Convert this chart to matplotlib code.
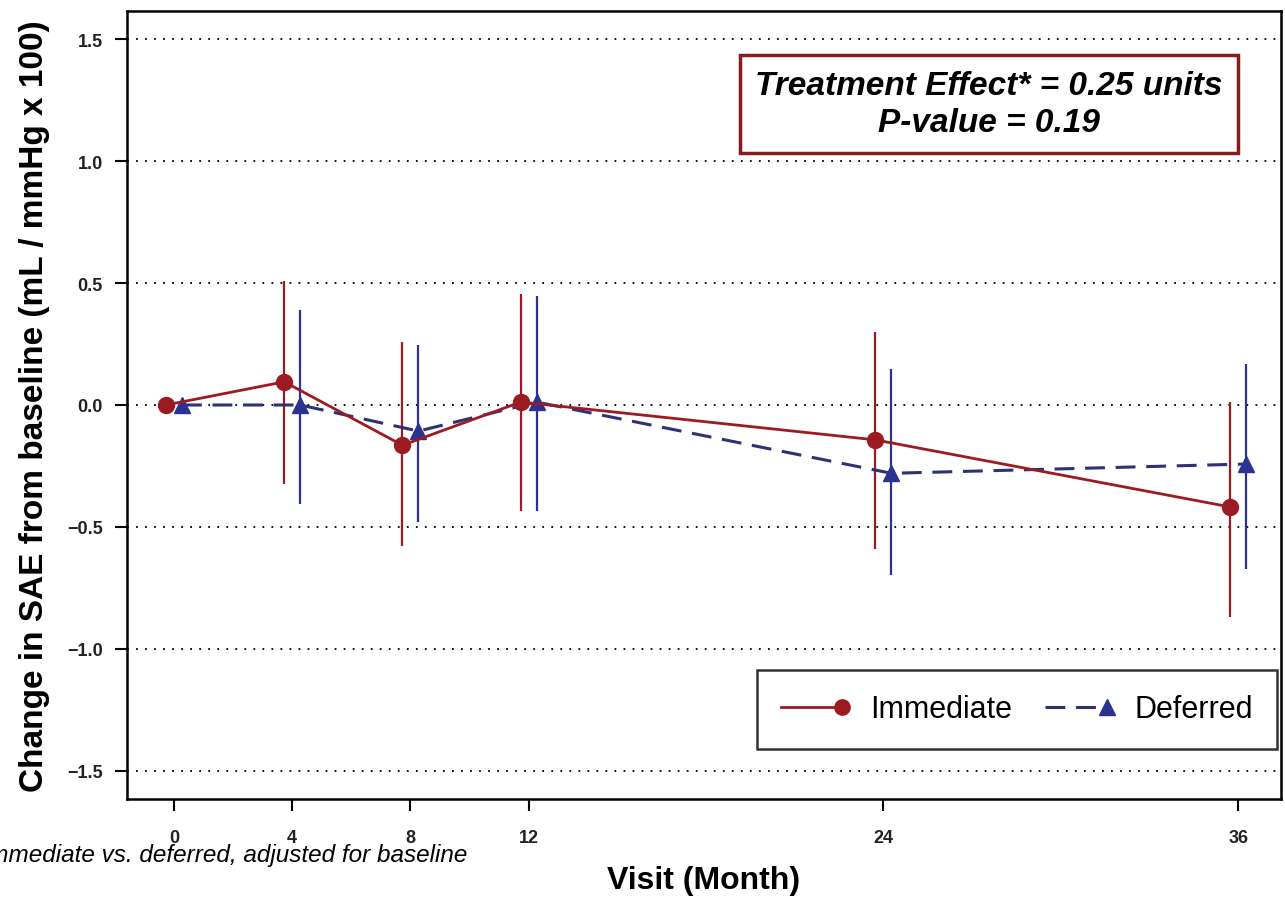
import numpy as np
import matplotlib.pyplot as plt
from matplotlib.lines import Line2D
from matplotlib.legend_handler import HandlerLine2D

plt.rcParams['font.family'] = ['Liberation Sans', 'DejaVu Sans']

# visit months and group estimates (change from baseline)
months = [0, 4, 8, 12, 24, 36]
immediate_mean = [0.0, 0.095, -0.165, 0.012, -0.143, -0.418]
immediate_low = [0.0, -0.324, -0.577, -0.433, -0.59, -0.869]
immediate_high = [0.0, 0.51, 0.258, 0.455, 0.30, 0.012]
deferred_mean = [0.0, 0.0, -0.107, 0.012, -0.28, -0.242]
deferred_low = [0.0, -0.405, -0.478, -0.433, -0.697, -0.672]
deferred_high = [0.0, 0.388, 0.246, 0.445, 0.148, 0.168]
yticks = [-1.5, -1.0, -0.5, 0.0, 0.5, 1.0, 1.5]

red = '#9c1b22'
blue = '#2b3391'
navy = '#2d3275'
dodge = 0.27
dash = (0, (6.5, 3.5))


class EndMarkerHandler(HandlerLine2D):
    # put the legend symbol at the right end of the key line
    def create_artists(self, legend, orig_handle, xdescent, ydescent,
                       width, height, fontsize, trans):
        artists = super().create_artists(legend, orig_handle, xdescent, ydescent,
                                         width, height, fontsize, trans)
        for art in artists:
            if isinstance(art, Line2D):
                art.set_markevery([len(art.get_xdata()) - 1])
        return artists


fig = plt.figure(figsize=(12.85, 9.03), dpi=100)
ax = fig.add_axes([0.0988, 0.1141, 0.8981, 0.8726])

x = np.array(months, dtype=float)
imm = np.array(immediate_mean)
dfr = np.array(deferred_mean)

# confidence intervals
ax.vlines(x - dodge, immediate_low, immediate_high, color=red, lw=1.6, zorder=2)
ax.vlines(x + dodge, deferred_low, deferred_high, color=blue, lw=1.6, zorder=2)

ax.plot(x - dodge, imm, color=red, lw=2, marker='o', ms=11.5,
        mfc=red, mec=red, zorder=4)
ax.plot(x + dodge, dfr, color=navy, lw=2.2, ls=dash, marker='^',
        ms=12, mfc=blue, mec=blue, zorder=3)

for y in yticks:
    ax.axhline(y, color='black', lw=1.3, ls=(0, (1, 4)), zorder=1)

ax.set_xlim(-1.59, 37.45)
ax.set_ylim(-1.615, 1.615)
ax.set_xticks(months)
ax.set_yticks(yticks)
ax.set_yticklabels(['\u22121.5', '\u22121.0', '\u22120.5', '0.0', '0.5', '1.0', '1.5'])
ax.tick_params(direction='out', length=8.5, width=1.5, labelsize=13)
ax.tick_params(axis='y', pad=9)
ax.tick_params(axis='x', pad=13)
for lab in ax.get_xticklabels() + ax.get_yticklabels():
    lab.set_fontweight('bold')
    lab.set_color('#222222')
for s in ax.spines.values():
    s.set_linewidth(1.8)

ax.set_ylabel('Change in SAE from baseline (mL / mmHg x 100)',
              fontsize=24, fontweight='bold', labelpad=12)
ax.set_xlabel('Visit (Month)', fontsize=23, fontweight='bold', labelpad=14)

ax.text(0.747, 0.882, 'Treatment Effect* = 0.25 units\nP-value = 0.19',
        transform=ax.transAxes, ha='center', va='center', fontsize=24,
        fontweight='bold', fontstyle='italic', linespacing=1.25,
        bbox=dict(boxstyle='square,pad=0.45', fc='white', ec='#8b1a1f', lw=2.5))

handles = [
    Line2D([], [], color=red, lw=2, marker='o', ms=11, mfc=red, mec=red),
    Line2D([], [], color=navy, lw=2.2, ls=dash, marker='^', ms=12,
           mfc=blue, mec=blue),
]
leg = ax.legend(handles, ['Immediate', 'Deferred'], ncol=2, loc='lower right',
                bbox_to_anchor=(0.9965, 0.0635), borderaxespad=0, numpoints=1,
                handler_map={Line2D: EndMarkerHandler()},
                fontsize=22, frameon=True, fancybox=False, edgecolor='black',
                handlelength=2.0, columnspacing=1.1, handletextpad=0.9,
                borderpad=0.8)
leg.get_frame().set_linewidth(1.8)

fig.text(467 / 1285, 1 - 856 / 903, '*Immediate vs. deferred, adjusted for baseline',
         ha='right', va='center', fontsize=17.5, fontstyle='italic')

fig.savefig('out.png', dpi=100)
